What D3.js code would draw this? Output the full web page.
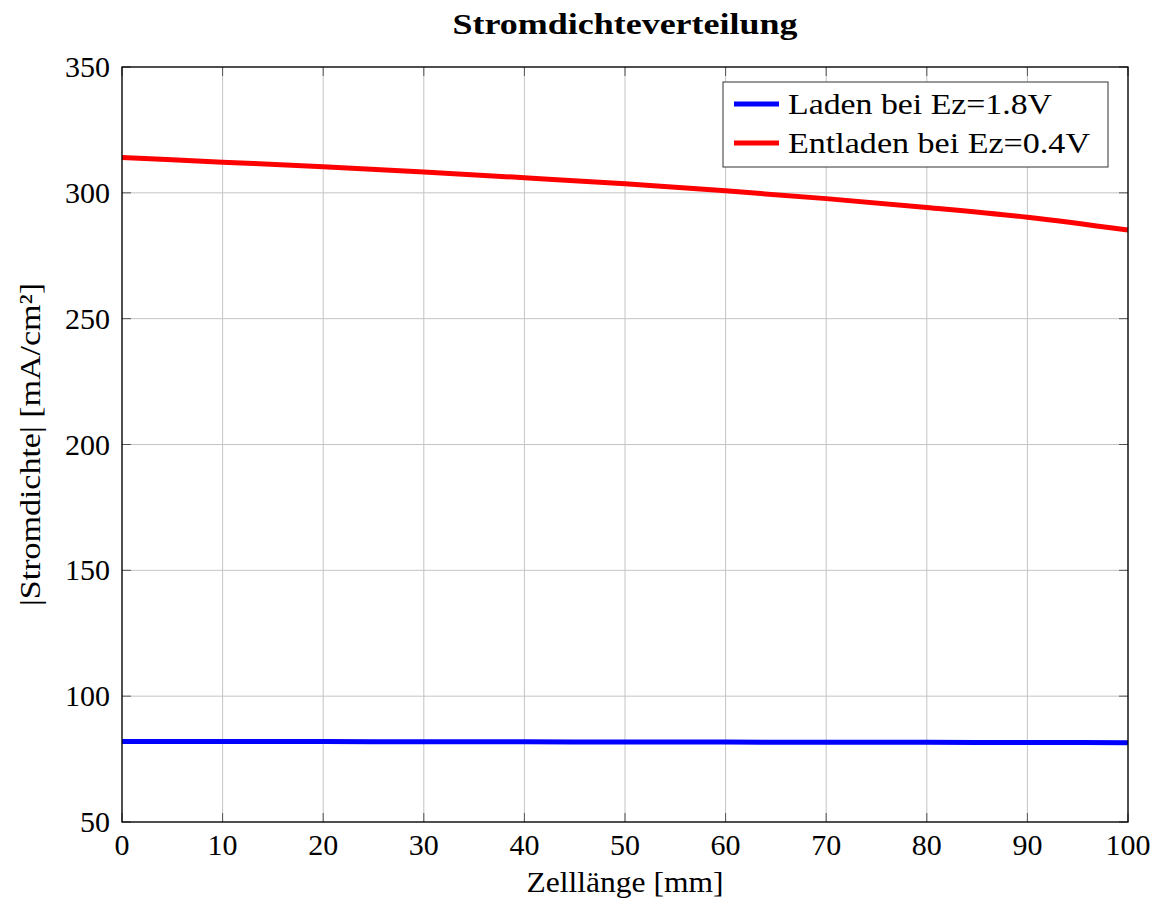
<!DOCTYPE html>
<html>
<head>
<meta charset="utf-8">
<script src="https://cdn.jsdelivr.net/npm/d3@7"></script>
<style>
body { margin: 0; background: #fff; }
text { font-family: "Liberation Serif", "DejaVu Serif", serif; fill: #000; }
</style>
</head>
<body>
<svg id="mainSvg" width="1163" height="908"></svg>
<script>
// data
var positions = [0, 10, 20, 30, 40, 50, 60, 70, 80, 90, 100];
var laden = [82.0, 82.0, 81.95, 81.9, 81.85, 81.8, 81.75, 81.7, 81.65, 81.6, 81.5];
var entladen = [314.0, 312.2, 310.4, 308.3, 306.0, 303.6, 300.8, 297.7, 294.2, 290.3, 285.2];
var xTicks = [0, 10, 20, 30, 40, 50, 60, 70, 80, 90, 100];
var yTicks = [50, 100, 150, 200, 250, 300, 350];
var seriesNames = ["Laden bei Ez=1.8V", "Entladen bei Ez=0.4V"];
var seriesColors = ["#0000ff", "#ff0000"];

var margin = {top: 67, right: 35, bottom: 86, left: 122},
width = 1163 - margin.left - margin.right,
height = 908 - margin.top - margin.bottom;

var fs = "30px";

var svg = d3.select("#mainSvg");
var g = svg.append("g")
	.attr("transform", "translate(" + margin.left + "," + margin.top + ")");

var x = d3.scaleLinear().domain([0, 100]).range([0, width]);
var y = d3.scaleLinear().domain([50, 350]).range([height, 0]);

// grid
g.selectAll(".vgrid").data(xTicks).enter().append("line")
	.attr("x1", function(d) { return x(d); }).attr("x2", function(d) { return x(d); })
	.attr("y1", 0).attr("y2", height)
	.attr("stroke", "#c4c4c4").attr("stroke-width", 1);
g.selectAll(".hgrid").data(yTicks).enter().append("line")
	.attr("y1", function(d) { return y(d); }).attr("y2", function(d) { return y(d); })
	.attr("x1", 0).attr("x2", width)
	.attr("stroke", "#c4c4c4").attr("stroke-width", 1);

// inner tick marks, all four sides
var tk = 9;
xTicks.forEach(function(d) {
	g.append("line").attr("x1", x(d)).attr("x2", x(d)).attr("y1", height).attr("y2", height - tk)
		.attr("stroke", "#555").attr("stroke-width", 1);
	g.append("line").attr("x1", x(d)).attr("x2", x(d)).attr("y1", 0).attr("y2", tk)
		.attr("stroke", "#555").attr("stroke-width", 1);
});
yTicks.forEach(function(d) {
	g.append("line").attr("x1", 0).attr("x2", tk).attr("y1", y(d)).attr("y2", y(d))
		.attr("stroke", "#555").attr("stroke-width", 1);
	g.append("line").attr("x1", width).attr("x2", width - tk).attr("y1", y(d)).attr("y2", y(d))
		.attr("stroke", "#555").attr("stroke-width", 1);
});

// tick labels
g.selectAll(".xlab").data(xTicks).enter().append("text")
	.attr("x", function(d) { return x(d); })
	.attr("y", height + 33)
	.attr("text-anchor", "middle")
	.style("font-size", fs)
	.text(function(d) { return d; });
g.selectAll(".ylab").data(yTicks).enter().append("text")
	.attr("x", -12)
	.attr("y", function(d) { return y(d) + 10; })
	.attr("text-anchor", "end")
	.style("font-size", fs)
	.text(function(d) { return d; });

// lines
var line = d3.line()
	.x(function(d, i) { return x(positions[i]); })
	.y(function(d) { return y(d); })
	.curve(d3.curveMonotoneX);

[laden, entladen].forEach(function(s, i) {
	g.append("path")
		.attr("d", line(s))
		.attr("fill", "none")
		.attr("stroke", seriesColors[i])
		.attr("stroke-width", 5);
});

// frame
g.append("rect").attr("x", 0).attr("y", 0).attr("width", width).attr("height", height)
	.attr("fill", "none").attr("stroke", "#000").attr("stroke-width", 1.3);

// legend
var legendWidths = [264, 302];
var legend = g.append("g").attr("transform", "translate(" + (723 - margin.left) + "," + (82 - margin.top) + ")");
legend.append("rect").attr("width", 385).attr("height", 85)
	.attr("fill", "#fff").attr("stroke", "#333").attr("stroke-width", 1);
seriesNames.forEach(function(n, i) {
	var ly = 22 + i * 39;
	legend.append("line").attr("x1", 11).attr("x2", 56).attr("y1", ly).attr("y2", ly)
		.attr("stroke", seriesColors[i]).attr("stroke-width", 5);
	legend.append("text").attr("x", 65).attr("y", ly + 10)
		.attr("textLength", legendWidths[i]).attr("lengthAdjust", "spacingAndGlyphs")
		.style("font-size", fs).text(n);
});

// title and axis labels
svg.append("text").attr("x", margin.left + width / 2).attr("y", 34)
	.attr("text-anchor", "middle").style("font-size", fs).style("font-weight", "bold")
	.attr("textLength", 345).attr("lengthAdjust", "spacingAndGlyphs")
	.text("Stromdichteverteilung");
svg.append("text").attr("x", margin.left + width / 2).attr("y", 892)
	.attr("text-anchor", "middle").style("font-size", fs)
	.attr("textLength", 197).attr("lengthAdjust", "spacingAndGlyphs")
	.text("Zelllänge [mm]");
svg.append("text")
	.attr("transform", "translate(40," + (margin.top + height / 2) + ") rotate(-90)")
	.attr("text-anchor", "middle").style("font-size", fs)
	.attr("textLength", 323).attr("lengthAdjust", "spacingAndGlyphs")
	.text("|Stromdichte| [mA/cm²]");
</script>
</body>
</html>
